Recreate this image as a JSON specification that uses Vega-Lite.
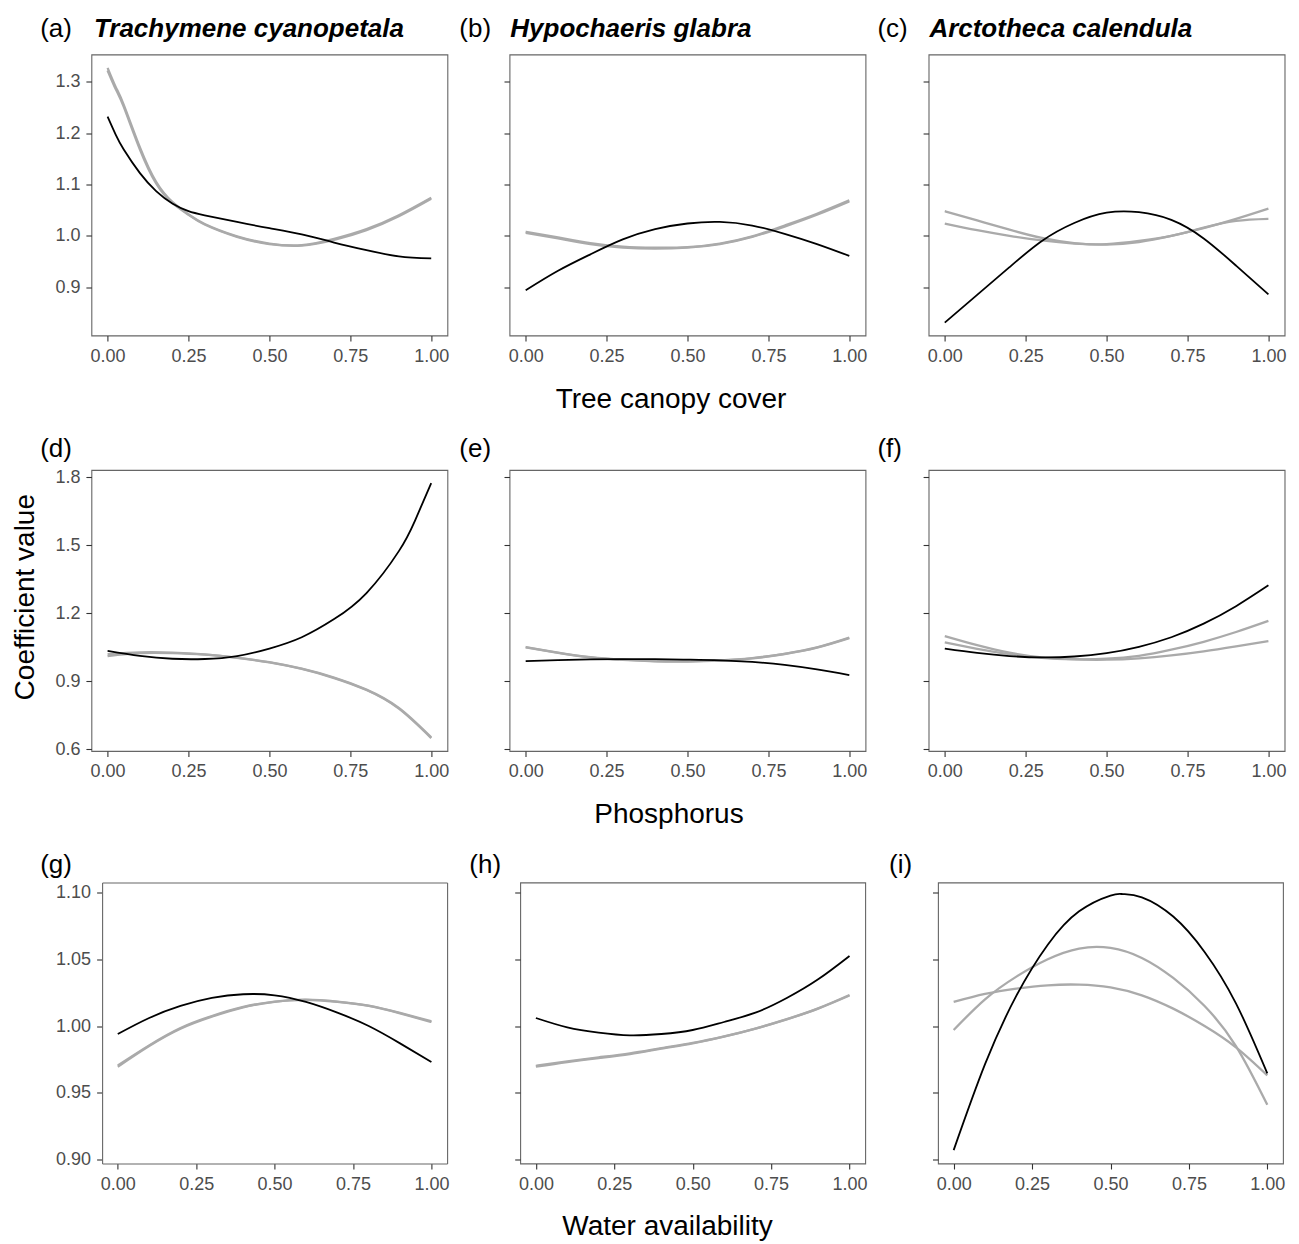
{
  "$schema": "https://vega.github.io/schema/vega-lite/v6.json",
  "background": "white",
  "padding": {"left": 10.4, "top": 13.5, "right": 5, "bottom": 1},
  "columns": 1,
  "align": "none",
  "spacing": 20.5,
  "config": {
    "font": "Liberation Sans",
    "view": {"stroke": "#666666", "strokeWidth": 1.1},
    "axis": {"grid": false, "domain": false, "tickColor": "#333333", "tickSize": 5.5, "tickWidth": 1.1,
      "labelFont": "Liberation Sans", "labelFontSize": 18, "labelColor": "#4d4d4d", "labelPadding": 6,
      "labelFlush": false, "labelOverlap": false, "domainColor": "#666666", "domainWidth": 1.1,
      "titleFont": "Liberation Sans", "titleFontSize": 28, "titleFontWeight": "normal", "titleColor": "#000000"},
    "axisX": {"labelPadding": 6.5}
  },
  "data": {"values": [
    {"p":"a","s":"k","x":0,"y":1.232},{"p":"a","s":"k","x":0.025,"y":1.197},{"p":"a","s":"k","x":0.05,"y":1.168},{"p":"a","s":"k","x":0.1,"y":1.122},{"p":"a","s":"k","x":0.15,"y":1.087},{"p":"a","s":"k","x":0.2,"y":1.063},{"p":"a","s":"k","x":0.25,"y":1.048},{"p":"a","s":"k","x":0.3,"y":1.04},{"p":"a","s":"k","x":0.4,"y":1.027},{"p":"a","s":"k","x":0.5,"y":1.015},{"p":"a","s":"k","x":0.6,"y":1.003},{"p":"a","s":"k","x":0.7,"y":0.987},{"p":"a","s":"k","x":0.8,"y":0.972},{"p":"a","s":"k","x":0.9,"y":0.96},{"p":"a","s":"k","x":1,"y":0.956},
    {"p":"a","s":"g1","x":0,"y":1.327},{"p":"a","s":"g1","x":0.025,"y":1.29},{"p":"a","s":"g1","x":0.05,"y":1.255},{"p":"a","s":"g1","x":0.1,"y":1.172},{"p":"a","s":"g1","x":0.15,"y":1.105},{"p":"a","s":"g1","x":0.2,"y":1.066},{"p":"a","s":"g1","x":0.25,"y":1.042},{"p":"a","s":"g1","x":0.3,"y":1.023},{"p":"a","s":"g1","x":0.4,"y":0.999},{"p":"a","s":"g1","x":0.5,"y":0.985},{"p":"a","s":"g1","x":0.6,"y":0.982},{"p":"a","s":"g1","x":0.7,"y":0.994},{"p":"a","s":"g1","x":0.8,"y":1.013},{"p":"a","s":"g1","x":0.9,"y":1.04},{"p":"a","s":"g1","x":1,"y":1.074},
    {"p":"a","s":"g2","x":0,"y":1.322},{"p":"a","s":"g2","x":0.025,"y":1.286},{"p":"a","s":"g2","x":0.05,"y":1.251},{"p":"a","s":"g2","x":0.1,"y":1.168},{"p":"a","s":"g2","x":0.15,"y":1.102},{"p":"a","s":"g2","x":0.2,"y":1.064},{"p":"a","s":"g2","x":0.25,"y":1.041},{"p":"a","s":"g2","x":0.3,"y":1.022},{"p":"a","s":"g2","x":0.4,"y":0.998},{"p":"a","s":"g2","x":0.5,"y":0.984},{"p":"a","s":"g2","x":0.6,"y":0.981},{"p":"a","s":"g2","x":0.7,"y":0.992},{"p":"a","s":"g2","x":0.8,"y":1.011},{"p":"a","s":"g2","x":0.9,"y":1.038},{"p":"a","s":"g2","x":1,"y":1.072},

    {"p":"b","s":"k","x":0,"y":0.894},{"p":"b","s":"k","x":0.1,"y":0.932},{"p":"b","s":"k","x":0.2,"y":0.964},{"p":"b","s":"k","x":0.3,"y":0.993},{"p":"b","s":"k","x":0.4,"y":1.013},{"p":"b","s":"k","x":0.5,"y":1.024},{"p":"b","s":"k","x":0.6,"y":1.027},{"p":"b","s":"k","x":0.7,"y":1.02},{"p":"b","s":"k","x":0.8,"y":1.004},{"p":"b","s":"k","x":0.9,"y":0.984},{"p":"b","s":"k","x":1,"y":0.961},
    {"p":"b","s":"g1","x":0,"y":1.008},{"p":"b","s":"g1","x":0.1,"y":0.997},{"p":"b","s":"g1","x":0.2,"y":0.986},{"p":"b","s":"g1","x":0.3,"y":0.979},{"p":"b","s":"g1","x":0.4,"y":0.977},{"p":"b","s":"g1","x":0.5,"y":0.978},{"p":"b","s":"g1","x":0.6,"y":0.985},{"p":"b","s":"g1","x":0.7,"y":0.999},{"p":"b","s":"g1","x":0.8,"y":1.02},{"p":"b","s":"g1","x":0.9,"y":1.043},{"p":"b","s":"g1","x":1,"y":1.069},
    {"p":"b","s":"g2","x":0,"y":1.006},{"p":"b","s":"g2","x":0.1,"y":0.995},{"p":"b","s":"g2","x":0.2,"y":0.984},{"p":"b","s":"g2","x":0.3,"y":0.977},{"p":"b","s":"g2","x":0.4,"y":0.975},{"p":"b","s":"g2","x":0.5,"y":0.977},{"p":"b","s":"g2","x":0.6,"y":0.984},{"p":"b","s":"g2","x":0.7,"y":0.998},{"p":"b","s":"g2","x":0.8,"y":1.018},{"p":"b","s":"g2","x":0.9,"y":1.041},{"p":"b","s":"g2","x":1,"y":1.067},

    {"p":"c","s":"k","x":0,"y":0.831},{"p":"c","s":"k","x":0.1,"y":0.885},{"p":"c","s":"k","x":0.2,"y":0.939},{"p":"c","s":"k","x":0.3,"y":0.99},{"p":"c","s":"k","x":0.4,"y":1.025},{"p":"c","s":"k","x":0.5,"y":1.045},{"p":"c","s":"k","x":0.6,"y":1.046},{"p":"c","s":"k","x":0.7,"y":1.031},{"p":"c","s":"k","x":0.8,"y":0.995},{"p":"c","s":"k","x":0.9,"y":0.942},{"p":"c","s":"k","x":1,"y":0.886},
    {"p":"c","s":"g1","x":0,"y":1.048},{"p":"c","s":"g1","x":0.1,"y":1.03},{"p":"c","s":"g1","x":0.2,"y":1.012},{"p":"c","s":"g1","x":0.3,"y":0.996},{"p":"c","s":"g1","x":0.4,"y":0.986},{"p":"c","s":"g1","x":0.5,"y":0.983},{"p":"c","s":"g1","x":0.6,"y":0.988},{"p":"c","s":"g1","x":0.7,"y":1.0},{"p":"c","s":"g1","x":0.8,"y":1.015},{"p":"c","s":"g1","x":0.9,"y":1.033},{"p":"c","s":"g1","x":1,"y":1.053},
    {"p":"c","s":"g2","x":0,"y":1.024},{"p":"c","s":"g2","x":0.1,"y":1.011},{"p":"c","s":"g2","x":0.2,"y":1.0},{"p":"c","s":"g2","x":0.3,"y":0.991},{"p":"c","s":"g2","x":0.4,"y":0.985},{"p":"c","s":"g2","x":0.5,"y":0.984},{"p":"c","s":"g2","x":0.6,"y":0.99},{"p":"c","s":"g2","x":0.7,"y":1.0},{"p":"c","s":"g2","x":0.8,"y":1.016},{"p":"c","s":"g2","x":0.9,"y":1.029},{"p":"c","s":"g2","x":1,"y":1.033},

    {"p":"d","s":"k","x":0,"y":1.035},{"p":"d","s":"k","x":0.1,"y":1.013},{"p":"d","s":"k","x":0.2,"y":1.0},{"p":"d","s":"k","x":0.3,"y":0.999},{"p":"d","s":"k","x":0.4,"y":1.012},{"p":"d","s":"k","x":0.5,"y":1.045},{"p":"d","s":"k","x":0.6,"y":1.095},{"p":"d","s":"k","x":0.7,"y":1.175},{"p":"d","s":"k","x":0.8,"y":1.29},{"p":"d","s":"k","x":0.9,"y":1.475},{"p":"d","s":"k","x":0.95,"y":1.61},{"p":"d","s":"k","x":1,"y":1.775},
    {"p":"d","s":"g1","x":0,"y":1.012},{"p":"d","s":"g1","x":0.1,"y":1.025},{"p":"d","s":"g1","x":0.2,"y":1.025},{"p":"d","s":"g1","x":0.3,"y":1.018},{"p":"d","s":"g1","x":0.4,"y":1.004},{"p":"d","s":"g1","x":0.5,"y":0.984},{"p":"d","s":"g1","x":0.6,"y":0.955},{"p":"d","s":"g1","x":0.7,"y":0.915},{"p":"d","s":"g1","x":0.8,"y":0.862},{"p":"d","s":"g1","x":0.9,"y":0.78},{"p":"d","s":"g1","x":1,"y":0.65},
    {"p":"d","s":"g2","x":0,"y":1.02},{"p":"d","s":"g2","x":0.1,"y":1.028},{"p":"d","s":"g2","x":0.2,"y":1.027},{"p":"d","s":"g2","x":0.3,"y":1.019},{"p":"d","s":"g2","x":0.4,"y":1.005},{"p":"d","s":"g2","x":0.5,"y":0.985},{"p":"d","s":"g2","x":0.6,"y":0.956},{"p":"d","s":"g2","x":0.7,"y":0.917},{"p":"d","s":"g2","x":0.8,"y":0.864},{"p":"d","s":"g2","x":0.9,"y":0.783},{"p":"d","s":"g2","x":1,"y":0.653},

    {"p":"e","s":"k","x":0,"y":0.99},{"p":"e","s":"k","x":0.1,"y":0.994},{"p":"e","s":"k","x":0.2,"y":0.997},{"p":"e","s":"k","x":0.3,"y":0.998},{"p":"e","s":"k","x":0.4,"y":0.998},{"p":"e","s":"k","x":0.5,"y":0.996},{"p":"e","s":"k","x":0.6,"y":0.993},{"p":"e","s":"k","x":0.7,"y":0.986},{"p":"e","s":"k","x":0.8,"y":0.973},{"p":"e","s":"k","x":0.9,"y":0.953},{"p":"e","s":"k","x":1,"y":0.928},
    {"p":"e","s":"g1","x":0,"y":1.052},{"p":"e","s":"g1","x":0.1,"y":1.027},{"p":"e","s":"g1","x":0.2,"y":1.007},{"p":"e","s":"g1","x":0.3,"y":0.996},{"p":"e","s":"g1","x":0.4,"y":0.99},{"p":"e","s":"g1","x":0.5,"y":0.989},{"p":"e","s":"g1","x":0.6,"y":0.993},{"p":"e","s":"g1","x":0.7,"y":1.003},{"p":"e","s":"g1","x":0.8,"y":1.022},{"p":"e","s":"g1","x":0.9,"y":1.05},{"p":"e","s":"g1","x":1,"y":1.093},
    {"p":"e","s":"g2","x":0,"y":1.05},{"p":"e","s":"g2","x":0.1,"y":1.026},{"p":"e","s":"g2","x":0.2,"y":1.006},{"p":"e","s":"g2","x":0.3,"y":0.995},{"p":"e","s":"g2","x":0.4,"y":0.989},{"p":"e","s":"g2","x":0.5,"y":0.988},{"p":"e","s":"g2","x":0.6,"y":0.992},{"p":"e","s":"g2","x":0.7,"y":1.002},{"p":"e","s":"g2","x":0.8,"y":1.021},{"p":"e","s":"g2","x":0.9,"y":1.049},{"p":"e","s":"g2","x":1,"y":1.091},

    {"p":"f","s":"k","x":0,"y":1.045},{"p":"f","s":"k","x":0.1,"y":1.026},{"p":"f","s":"k","x":0.2,"y":1.012},{"p":"f","s":"k","x":0.3,"y":1.006},{"p":"f","s":"k","x":0.4,"y":1.01},{"p":"f","s":"k","x":0.5,"y":1.025},{"p":"f","s":"k","x":0.6,"y":1.053},{"p":"f","s":"k","x":0.7,"y":1.095},{"p":"f","s":"k","x":0.8,"y":1.155},{"p":"f","s":"k","x":0.9,"y":1.232},{"p":"f","s":"k","x":1,"y":1.324},
    {"p":"f","s":"g1","x":0,"y":1.1},{"p":"f","s":"g1","x":0.1,"y":1.06},{"p":"f","s":"g1","x":0.2,"y":1.027},{"p":"f","s":"g1","x":0.3,"y":1.006},{"p":"f","s":"g1","x":0.4,"y":0.998},{"p":"f","s":"g1","x":0.5,"y":1.0},{"p":"f","s":"g1","x":0.6,"y":1.013},{"p":"f","s":"g1","x":0.7,"y":1.04},{"p":"f","s":"g1","x":0.8,"y":1.075},{"p":"f","s":"g1","x":0.9,"y":1.118},{"p":"f","s":"g1","x":1,"y":1.167},
    {"p":"f","s":"g2","x":0,"y":1.072},{"p":"f","s":"g2","x":0.1,"y":1.044},{"p":"f","s":"g2","x":0.2,"y":1.02},{"p":"f","s":"g2","x":0.3,"y":1.004},{"p":"f","s":"g2","x":0.4,"y":0.997},{"p":"f","s":"g2","x":0.5,"y":0.996},{"p":"f","s":"g2","x":0.6,"y":1.002},{"p":"f","s":"g2","x":0.7,"y":1.015},{"p":"f","s":"g2","x":0.8,"y":1.033},{"p":"f","s":"g2","x":0.9,"y":1.055},{"p":"f","s":"g2","x":1,"y":1.078},

    {"p":"g","s":"k","x":0,"y":0.994},{"p":"g","s":"k","x":0.1,"y":1.006},{"p":"g","s":"k","x":0.2,"y":1.015},{"p":"g","s":"k","x":0.3,"y":1.021},{"p":"g","s":"k","x":0.4,"y":1.0238},{"p":"g","s":"k","x":0.5,"y":1.023},{"p":"g","s":"k","x":0.6,"y":1.018},{"p":"g","s":"k","x":0.7,"y":1.01},{"p":"g","s":"k","x":0.8,"y":1.0},{"p":"g","s":"k","x":0.9,"y":0.987},{"p":"g","s":"k","x":1,"y":0.973},
    {"p":"g","s":"g1","x":0,"y":0.9695},{"p":"g","s":"g1","x":0.1,"y":0.985},{"p":"g","s":"g1","x":0.2,"y":0.998},{"p":"g","s":"g1","x":0.3,"y":1.007},{"p":"g","s":"g1","x":0.4,"y":1.014},{"p":"g","s":"g1","x":0.5,"y":1.018},{"p":"g","s":"g1","x":0.6,"y":1.0195},{"p":"g","s":"g1","x":0.7,"y":1.018},{"p":"g","s":"g1","x":0.8,"y":1.015},{"p":"g","s":"g1","x":0.9,"y":1.0095},{"p":"g","s":"g1","x":1,"y":1.003},
    {"p":"g","s":"g2","x":0,"y":0.9705},{"p":"g","s":"g2","x":0.1,"y":0.9855},{"p":"g","s":"g2","x":0.2,"y":0.9985},{"p":"g","s":"g2","x":0.3,"y":1.0075},{"p":"g","s":"g2","x":0.4,"y":1.0143},{"p":"g","s":"g2","x":0.5,"y":1.0183},{"p":"g","s":"g2","x":0.6,"y":1.0197},{"p":"g","s":"g2","x":0.7,"y":1.0183},{"p":"g","s":"g2","x":0.8,"y":1.0153},{"p":"g","s":"g2","x":0.9,"y":1.0098},{"p":"g","s":"g2","x":1,"y":1.0035},

    {"p":"h","s":"k","x":0,"y":1.006},{"p":"h","s":"k","x":0.1,"y":0.999},{"p":"h","s":"k","x":0.2,"y":0.995},{"p":"h","s":"k","x":0.3,"y":0.993},{"p":"h","s":"k","x":0.4,"y":0.994},{"p":"h","s":"k","x":0.5,"y":0.997},{"p":"h","s":"k","x":0.6,"y":1.003},{"p":"h","s":"k","x":0.7,"y":1.01},{"p":"h","s":"k","x":0.8,"y":1.021},{"p":"h","s":"k","x":0.9,"y":1.035},{"p":"h","s":"k","x":1,"y":1.0525},
    {"p":"h","s":"g1","x":0,"y":0.9695},{"p":"h","s":"g1","x":0.1,"y":0.973},{"p":"h","s":"g1","x":0.2,"y":0.976},{"p":"h","s":"g1","x":0.3,"y":0.979},{"p":"h","s":"g1","x":0.4,"y":0.983},{"p":"h","s":"g1","x":0.5,"y":0.987},{"p":"h","s":"g1","x":0.6,"y":0.992},{"p":"h","s":"g1","x":0.7,"y":0.998},{"p":"h","s":"g1","x":0.8,"y":1.005},{"p":"h","s":"g1","x":0.9,"y":1.013},{"p":"h","s":"g1","x":1,"y":1.0228},
    {"p":"h","s":"g2","x":0,"y":0.9702},{"p":"h","s":"g2","x":0.1,"y":0.9735},{"p":"h","s":"g2","x":0.2,"y":0.9765},{"p":"h","s":"g2","x":0.3,"y":0.9795},{"p":"h","s":"g2","x":0.4,"y":0.9834},{"p":"h","s":"g2","x":0.5,"y":0.9873},{"p":"h","s":"g2","x":0.6,"y":0.9922},{"p":"h","s":"g2","x":0.7,"y":0.9981},{"p":"h","s":"g2","x":0.8,"y":1.0051},{"p":"h","s":"g2","x":0.9,"y":1.0132},{"p":"h","s":"g2","x":1,"y":1.0232},

    {"p":"i","s":"k","x":0,"y":0.907},{"p":"i","s":"k","x":0.1,"y":0.9714},{"p":"i","s":"k","x":0.2,"y":1.0227},{"p":"i","s":"k","x":0.3,"y":1.0609},{"p":"i","s":"k","x":0.4,"y":1.0859},{"p":"i","s":"k","x":0.5,"y":1.0977},{"p":"i","s":"k","x":0.54,"y":1.0988},{"p":"i","s":"k","x":0.6,"y":1.0964},{"p":"i","s":"k","x":0.7,"y":1.082},{"p":"i","s":"k","x":0.8,"y":1.0555},{"p":"i","s":"k","x":0.9,"y":1.017},{"p":"i","s":"k","x":1,"y":0.9645},
    {"p":"i","s":"g1","x":0,"y":0.997},{"p":"i","s":"g1","x":0.1,"y":1.02},{"p":"i","s":"g1","x":0.2,"y":1.037},{"p":"i","s":"g1","x":0.3,"y":1.05},{"p":"i","s":"g1","x":0.4,"y":1.058},{"p":"i","s":"g1","x":0.5,"y":1.0585},{"p":"i","s":"g1","x":0.6,"y":1.051},{"p":"i","s":"g1","x":0.7,"y":1.036},{"p":"i","s":"g1","x":0.8,"y":1.015},{"p":"i","s":"g1","x":0.9,"y":0.985},{"p":"i","s":"g1","x":1,"y":0.941},
    {"p":"i","s":"g2","x":0,"y":1.018},{"p":"i","s":"g2","x":0.1,"y":1.024},{"p":"i","s":"g2","x":0.2,"y":1.028},{"p":"i","s":"g2","x":0.3,"y":1.0305},{"p":"i","s":"g2","x":0.4,"y":1.031},{"p":"i","s":"g2","x":0.5,"y":1.029},{"p":"i","s":"g2","x":0.6,"y":1.023},{"p":"i","s":"g2","x":0.7,"y":1.013},{"p":"i","s":"g2","x":0.8,"y":1.0},{"p":"i","s":"g2","x":0.9,"y":0.984},{"p":"i","s":"g2","x":1,"y":0.963}
  ]},
  "concat": [
    {
      "spacing": 8.1,
      "hconcat": [
        {
          "width": 356, "height": 281,
          "layer": [
            {"transform": [{"filter": "datum.p == 'a' && datum.s != 'k'"}],
             "mark": {"type": "line", "color": "#aaaaaa", "strokeWidth": 2.3, "interpolate": "natural"},
             "encoding": {
               "x": {"field": "x", "type": "quantitative", "scale": {"domain": [-0.05, 1.05], "nice": false},
                     "axis": {"orient": "top", "labels": false, "ticks": false, "domain": false, "title": "Trachymene cyanopetala", "titleFontStyle": "italic", "titleFontWeight": "bold", "titleFontSize": 26, "titleX": 2, "titleY": -18.5, "titleAlign": "left", "titleBaseline": "alphabetic"}},
               "y": {"field": "y", "type": "quantitative", "scale": {"domain": [0.806, 1.353], "nice": false, "zero": false},
                     "axis": {"orient": "left", "values": [0.9, 1.0, 1.1, 1.2, 1.3], "format": ".1f", "title": null}},
               "detail": {"field": "s"}}},
            {"transform": [{"filter": "datum.p == 'a' && datum.s == 'k'"}],
             "mark": {"type": "line", "color": "#000000", "strokeWidth": 1.8, "interpolate": "natural"},
             "encoding": {
               "x": {"field": "x", "type": "quantitative", "scale": {"domain": [-0.05, 1.05], "nice": false},
                     "axis": {"orient": "bottom", "values": [0, 0.25, 0.5, 0.75, 1], "format": ".2f", "title": null}},
               "y": {"field": "y", "type": "quantitative", "scale": {"domain": [0.806, 1.353], "nice": false, "zero": false},
                     "axis": {"orient": "right", "labels": false, "ticks": false, "domain": false, "title": "(a)", "titleFontSize": 26, "titleAngle": 0, "titleAlign": "left", "titleBaseline": "alphabetic", "titleX": -407.7, "titleY": -18.5}}}}
          ],
          "resolve": {"axis": {"x": "independent", "y": "independent"}}
        },
        {
          "width": 356, "height": 281,
          "layer": [
            {"transform": [{"filter": "datum.p == 'b' && datum.s != 'k'"}],
             "mark": {"type": "line", "color": "#aaaaaa", "strokeWidth": 2.3, "interpolate": "natural"},
             "encoding": {
               "x": {"field": "x", "type": "quantitative", "scale": {"domain": [-0.05, 1.05], "nice": false},
                     "axis": {"orient": "top", "labels": false, "ticks": false, "domain": false, "title": "Hypochaeris glabra", "titleFontStyle": "italic", "titleFontWeight": "bold", "titleFontSize": 26, "titleX": 0.3, "titleY": -18.5, "titleAlign": "left", "titleBaseline": "alphabetic"}},
               "y": {"field": "y", "type": "quantitative", "scale": {"domain": [0.806, 1.353], "nice": false, "zero": false},
                     "axis": {"orient": "left", "values": [0.9, 1.0, 1.1, 1.2, 1.3], "labels": false, "title": null}},
               "detail": {"field": "s"}}},
            {"transform": [{"filter": "datum.p == 'b' && datum.s == 'k'"}],
             "mark": {"type": "line", "color": "#000000", "strokeWidth": 1.8, "interpolate": "natural"},
             "encoding": {
               "x": {"field": "x", "type": "quantitative", "scale": {"domain": [-0.05, 1.05], "nice": false},
                     "axis": {"orient": "bottom", "values": [0, 0.25, 0.5, 0.75, 1], "format": ".2f", "title": "Tree canopy cover", "titleX": 161, "titleY": 72, "titleAlign": "center", "titleBaseline": "alphabetic"}},
               "y": {"field": "y", "type": "quantitative", "scale": {"domain": [0.806, 1.353], "nice": false, "zero": false},
                     "axis": {"orient": "right", "labels": false, "ticks": false, "domain": false, "title": "(b)", "titleFontSize": 26, "titleAngle": 0, "titleAlign": "left", "titleBaseline": "alphabetic", "titleX": -406.7, "titleY": -18.5}}}}
          ],
          "resolve": {"axis": {"x": "independent", "y": "independent"}}
        },
        {
          "width": 356, "height": 281,
          "layer": [
            {"transform": [{"filter": "datum.p == 'c' && datum.s != 'k'"}],
             "mark": {"type": "line", "color": "#aaaaaa", "strokeWidth": 2.3, "interpolate": "natural"},
             "encoding": {
               "x": {"field": "x", "type": "quantitative", "scale": {"domain": [-0.05, 1.05], "nice": false},
                     "axis": {"orient": "top", "labels": false, "ticks": false, "domain": false, "title": "Arctotheca calendula", "titleFontStyle": "italic", "titleFontWeight": "bold", "titleFontSize": 26, "titleX": 0.3, "titleY": -18.5, "titleAlign": "left", "titleBaseline": "alphabetic"}},
               "y": {"field": "y", "type": "quantitative", "scale": {"domain": [0.806, 1.353], "nice": false, "zero": false},
                     "axis": {"orient": "left", "values": [0.9, 1.0, 1.1, 1.2, 1.3], "labels": false, "title": null}},
               "detail": {"field": "s"}}},
            {"transform": [{"filter": "datum.p == 'c' && datum.s == 'k'"}],
             "mark": {"type": "line", "color": "#000000", "strokeWidth": 1.8, "interpolate": "natural"},
             "encoding": {
               "x": {"field": "x", "type": "quantitative", "scale": {"domain": [-0.05, 1.05], "nice": false},
                     "axis": {"orient": "bottom", "values": [0, 0.25, 0.5, 0.75, 1], "format": ".2f", "title": null}},
               "y": {"field": "y", "type": "quantitative", "scale": {"domain": [0.806, 1.353], "nice": false, "zero": false},
                     "axis": {"orient": "right", "labels": false, "ticks": false, "domain": false, "title": "(c)", "titleFontSize": 26, "titleAngle": 0, "titleAlign": "left", "titleBaseline": "alphabetic", "titleX": -407.7, "titleY": -18.5}}}}
          ],
          "resolve": {"axis": {"x": "independent", "y": "independent"}}
        }
      ]
    },
    {
      "spacing": 8.1,
      "hconcat": [
        {
          "width": 356, "height": 281,
          "layer": [
            {"transform": [{"filter": "datum.p == 'd' && datum.s != 'k'"}],
             "mark": {"type": "line", "color": "#aaaaaa", "strokeWidth": 2.3, "interpolate": "natural"},
             "encoding": {
               "x": {"field": "x", "type": "quantitative", "scale": {"domain": [-0.05, 1.05], "nice": false},
                     "axis": {"orient": "bottom", "values": [0, 0.25, 0.5, 0.75, 1], "format": ".2f", "title": null}},
               "y": {"field": "y", "type": "quantitative", "scale": {"domain": [0.593, 1.833], "nice": false, "zero": false},
                     "axis": {"orient": "left", "values": [0.6, 0.9, 1.2, 1.5, 1.8], "format": ".1f", "title": "Coefficient value", "titleX": -58, "titleY": 126.7, "titleAngle": -90, "titleAlign": "center", "titleBaseline": "alphabetic"}},
               "detail": {"field": "s"}}},
            {"transform": [{"filter": "datum.p == 'd' && datum.s == 'k'"}],
             "mark": {"type": "line", "color": "#000000", "strokeWidth": 1.8, "interpolate": "natural"},
             "encoding": {
               "x": {"field": "x", "type": "quantitative", "scale": {"domain": [-0.05, 1.05], "nice": false},
                     "axis": {"orient": "bottom", "values": [0, 0.25, 0.5, 0.75, 1], "format": ".2f", "title": null}},
               "y": {"field": "y", "type": "quantitative", "scale": {"domain": [0.593, 1.833], "nice": false, "zero": false},
                     "axis": {"orient": "right", "labels": false, "ticks": false, "domain": false, "title": "(d)", "titleFontSize": 26, "titleAngle": 0, "titleAlign": "left", "titleBaseline": "alphabetic", "titleX": -407.7, "titleY": -13.1}}}}
          ],
          "resolve": {"axis": {"y": "independent"}}
        },
        {
          "width": 356, "height": 281,
          "layer": [
            {"transform": [{"filter": "datum.p == 'e' && datum.s != 'k'"}],
             "mark": {"type": "line", "color": "#aaaaaa", "strokeWidth": 2.3, "interpolate": "natural"},
             "encoding": {
               "x": {"field": "x", "type": "quantitative", "scale": {"domain": [-0.05, 1.05], "nice": false},
                     "axis": {"orient": "bottom", "values": [0, 0.25, 0.5, 0.75, 1], "format": ".2f", "title": "Phosphorus", "titleX": 159, "titleY": 72, "titleAlign": "center", "titleBaseline": "alphabetic"}},
               "y": {"field": "y", "type": "quantitative", "scale": {"domain": [0.593, 1.833], "nice": false, "zero": false},
                     "axis": {"orient": "left", "values": [0.6, 0.9, 1.2, 1.5, 1.8], "labels": false, "title": null}},
               "detail": {"field": "s"}}},
            {"transform": [{"filter": "datum.p == 'e' && datum.s == 'k'"}],
             "mark": {"type": "line", "color": "#000000", "strokeWidth": 1.8, "interpolate": "natural"},
             "encoding": {
               "x": {"field": "x", "type": "quantitative", "scale": {"domain": [-0.05, 1.05], "nice": false},
                     "axis": {"orient": "bottom", "values": [0, 0.25, 0.5, 0.75, 1], "format": ".2f", "title": "Phosphorus", "titleX": 159, "titleY": 72, "titleAlign": "center", "titleBaseline": "alphabetic"}},
               "y": {"field": "y", "type": "quantitative", "scale": {"domain": [0.593, 1.833], "nice": false, "zero": false},
                     "axis": {"orient": "right", "labels": false, "ticks": false, "domain": false, "title": "(e)", "titleFontSize": 26, "titleAngle": 0, "titleAlign": "left", "titleBaseline": "alphabetic", "titleX": -406.7, "titleY": -13.1}}}}
          ],
          "resolve": {"axis": {"y": "independent"}}
        },
        {
          "width": 356, "height": 281,
          "layer": [
            {"transform": [{"filter": "datum.p == 'f' && datum.s != 'k'"}],
             "mark": {"type": "line", "color": "#aaaaaa", "strokeWidth": 2.3, "interpolate": "natural"},
             "encoding": {
               "x": {"field": "x", "type": "quantitative", "scale": {"domain": [-0.05, 1.05], "nice": false},
                     "axis": {"orient": "bottom", "values": [0, 0.25, 0.5, 0.75, 1], "format": ".2f", "title": null}},
               "y": {"field": "y", "type": "quantitative", "scale": {"domain": [0.593, 1.833], "nice": false, "zero": false},
                     "axis": {"orient": "left", "values": [0.6, 0.9, 1.2, 1.5, 1.8], "labels": false, "title": null}},
               "detail": {"field": "s"}}},
            {"transform": [{"filter": "datum.p == 'f' && datum.s == 'k'"}],
             "mark": {"type": "line", "color": "#000000", "strokeWidth": 1.8, "interpolate": "natural"},
             "encoding": {
               "x": {"field": "x", "type": "quantitative", "scale": {"domain": [-0.05, 1.05], "nice": false},
                     "axis": {"orient": "bottom", "values": [0, 0.25, 0.5, 0.75, 1], "format": ".2f", "title": null}},
               "y": {"field": "y", "type": "quantitative", "scale": {"domain": [0.593, 1.833], "nice": false, "zero": false},
                     "axis": {"orient": "right", "labels": false, "ticks": false, "domain": false, "title": "(f)", "titleFontSize": 26, "titleAngle": 0, "titleAlign": "left", "titleBaseline": "alphabetic", "titleX": -407.7, "titleY": -13.1}}}}
          ],
          "resolve": {"axis": {"y": "independent"}}
        }
      ]
    },
    {
      "spacing": 18.8,
      "hconcat": [
        {
          "width": 355.7, "height": 281,
          "view": {"stroke": null},
          "layer": [
            {"transform": [{"filter": "datum.p == 'g' && datum.s != 'k'"}],
             "mark": {"type": "line", "color": "#aaaaaa", "strokeWidth": 2.3, "interpolate": "natural"},
             "encoding": {
               "x": {"field": "x", "type": "quantitative", "scale": {"domain": [-0.05, 1.05], "nice": false, "range": [10.7, 355.7]},
                     "axis": {"orient": "top", "labels": false, "ticks": false, "domain": true, "title": null}},
               "y": {"field": "y", "type": "quantitative", "scale": {"domain": [0.897, 1.1075], "nice": false, "zero": false},
                     "axis": {"orient": "left", "offset": -10.7, "domain": true, "values": [0.9, 0.95, 1.0, 1.05, 1.1], "format": ".2f", "title": null}},
               "detail": {"field": "s"}}},
            {"transform": [{"filter": "datum.p == 'g' && datum.s == 'k'"}],
             "mark": {"type": "line", "color": "#000000", "strokeWidth": 1.8, "interpolate": "natural"},
             "encoding": {
               "x": {"field": "x", "type": "quantitative", "scale": {"domain": [-0.05, 1.05], "nice": false, "range": [10.7, 355.7]},
                     "axis": {"orient": "bottom", "domain": true, "values": [0, 0.25, 0.5, 0.75, 1], "format": ".2f", "title": null}},
               "y": {"field": "y", "type": "quantitative", "scale": {"domain": [0.897, 1.1075], "nice": false, "zero": false},
                     "axis": {"orient": "right", "labels": false, "ticks": false, "domain": true, "title": "(g)", "titleFontSize": 26, "titleAngle": 0, "titleAlign": "left", "titleBaseline": "alphabetic", "titleX": -407.4, "titleY": -10.3}}}}
          ],
          "resolve": {"axis": {"x": "independent", "y": "independent"}}
        },
        {
          "width": 345, "height": 281,
          "layer": [
            {"transform": [{"filter": "datum.p == 'h' && datum.s != 'k'"}],
             "mark": {"type": "line", "color": "#aaaaaa", "strokeWidth": 2.3, "interpolate": "natural"},
             "encoding": {
               "x": {"field": "x", "type": "quantitative", "scale": {"domain": [-0.05, 1.05], "nice": false},
                     "axis": {"orient": "bottom", "values": [0, 0.25, 0.5, 0.75, 1], "format": ".2f", "title": "Water availability", "titleX": 146.8, "titleY": 71, "titleAlign": "center", "titleBaseline": "alphabetic"}},
               "y": {"field": "y", "type": "quantitative", "scale": {"domain": [0.897, 1.1075], "nice": false, "zero": false},
                     "axis": {"orient": "left", "values": [0.9, 0.95, 1.0, 1.05, 1.1], "labels": false, "title": null}},
               "detail": {"field": "s"}}},
            {"transform": [{"filter": "datum.p == 'h' && datum.s == 'k'"}],
             "mark": {"type": "line", "color": "#000000", "strokeWidth": 1.8, "interpolate": "natural"},
             "encoding": {
               "x": {"field": "x", "type": "quantitative", "scale": {"domain": [-0.05, 1.05], "nice": false},
                     "axis": {"orient": "bottom", "values": [0, 0.25, 0.5, 0.75, 1], "format": ".2f", "title": "Water availability", "titleX": 146.8, "titleY": 71, "titleAlign": "center", "titleBaseline": "alphabetic"}},
               "y": {"field": "y", "type": "quantitative", "scale": {"domain": [0.897, 1.1075], "nice": false, "zero": false},
                     "axis": {"orient": "right", "labels": false, "ticks": false, "domain": false, "title": "(h)", "titleFontSize": 26, "titleAngle": 0, "titleAlign": "left", "titleBaseline": "alphabetic", "titleX": -396.4, "titleY": -10.3}}}}
          ],
          "resolve": {"axis": {"y": "independent"}}
        },
        {
          "width": 345, "height": 281,
          "layer": [
            {"transform": [{"filter": "datum.p == 'i' && datum.s != 'k'"}],
             "mark": {"type": "line", "color": "#aaaaaa", "strokeWidth": 2.3, "interpolate": "natural"},
             "encoding": {
               "x": {"field": "x", "type": "quantitative", "scale": {"domain": [-0.05, 1.05], "nice": false},
                     "axis": {"orient": "bottom", "values": [0, 0.25, 0.5, 0.75, 1], "format": ".2f", "title": null}},
               "y": {"field": "y", "type": "quantitative", "scale": {"domain": [0.897, 1.1075], "nice": false, "zero": false},
                     "axis": {"orient": "left", "values": [0.9, 0.95, 1.0, 1.05, 1.1], "labels": false, "title": null}},
               "detail": {"field": "s"}}},
            {"transform": [{"filter": "datum.p == 'i' && datum.s == 'k'"}],
             "mark": {"type": "line", "color": "#000000", "strokeWidth": 1.8, "interpolate": "natural"},
             "encoding": {
               "x": {"field": "x", "type": "quantitative", "scale": {"domain": [-0.05, 1.05], "nice": false},
                     "axis": {"orient": "bottom", "values": [0, 0.25, 0.5, 0.75, 1], "format": ".2f", "title": null}},
               "y": {"field": "y", "type": "quantitative", "scale": {"domain": [0.897, 1.1075], "nice": false, "zero": false},
                     "axis": {"orient": "right", "labels": false, "ticks": false, "domain": false, "title": "(i)", "titleFontSize": 26, "titleAngle": 0, "titleAlign": "left", "titleBaseline": "alphabetic", "titleX": -394.5, "titleY": -10.3}}}}
          ],
          "resolve": {"axis": {"y": "independent"}}
        }
      ]
    }
  ]
}
